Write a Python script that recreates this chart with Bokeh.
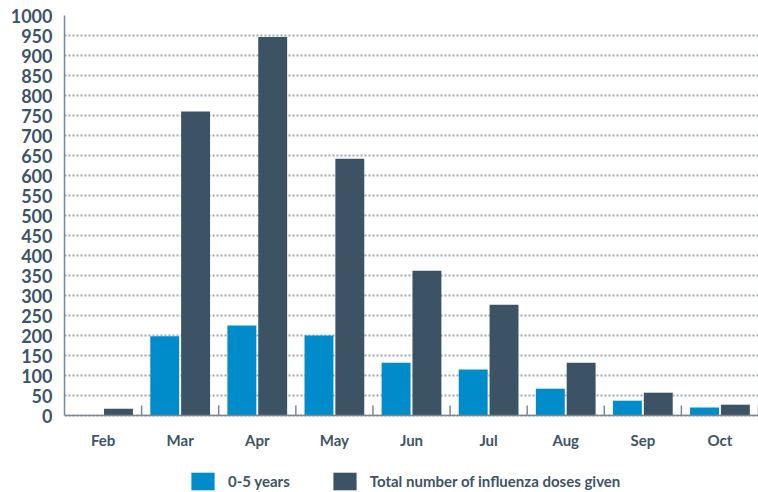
from bokeh.plotting import figure
from bokeh.models import (ColumnDataSource, FactorRange, Range1d, FixedTicker,
                          Legend, LegendItem)
from bokeh.transform import dodge
from bokeh.embed import file_html
from bokeh.resources import INLINE

months = ["Feb", "Mar", "Apr", "May", "Jun", "Jul", "Aug", "Sep", "Oct"]
young = [0, 198, 225, 200, 132, 115, 67, 37, 20]
total = [17, 760, 946, 642, 362, 277, 132, 57, 27]
y_ticks = list(range(0, 1001, 50))

BLUE = "#008bca"
DARK = "#3c5265"
TEXT = "#3e5467"
GRID = "#9aa5ae"
AXIS = "#7b8893"
FONT = "Lato"

W, H = 758, 492
TOP, LEFT = 15, 64
PLOT_PX = 400  # pixel height of 0..1000
frame_h = H - TOP
y_start = 1000 - frame_h * 1000 / PLOT_PX

src = ColumnDataSource(dict(month=months, young=young, total=total))

p = figure(x_range=FactorRange(*months, range_padding=0), y_range=Range1d(y_start, 1000),
           width=W, height=H, output_backend="svg", toolbar_location=None,
           min_border_left=LEFT, min_border_top=TOP, min_border_right=0, min_border_bottom=0)

r1 = p.vbar(x=dodge("month", -0.2, range=p.x_range), top="young", width=0.375,
            source=src, color=BLUE, line_color=None)
r2 = p.vbar(x=dodge("month", 0.2, range=p.x_range), top="total", width=0.375,
            source=src, color=DARK, line_color=None)

# small separator ticks between month groups
bounds = list(range(1, len(months) + 1))
p.segment(x0=bounds, y0=[0] * len(bounds), x1=bounds, y1=[25] * len(bounds),
          line_color=AXIS, line_width=1.5)

p.outline_line_color = None
p.xgrid.grid_line_color = None
p.ygrid.ticker = FixedTicker(ticks=y_ticks)
p.ygrid.grid_line_color = GRID
p.ygrid.grid_line_dash = "2 2"
p.ygrid.grid_line_width = 2

p.yaxis.ticker = FixedTicker(ticks=y_ticks)
p.yaxis.bounds = (0, 1000)
p.yaxis.major_tick_line_color = None
p.yaxis.minor_tick_line_color = None
p.yaxis.axis_line_color = AXIS
p.yaxis.axis_line_width = 1.5
p.yaxis.major_label_text_font = FONT
p.yaxis.major_label_text_font_style = "bold"
p.yaxis.major_label_text_font_size = "18px"
p.yaxis.major_label_text_color = TEXT
p.yaxis.major_label_standoff = 6

p.xaxis.fixed_location = 0
p.xaxis.major_tick_line_color = None
p.xaxis.minor_tick_line_color = None
p.xaxis.axis_line_color = AXIS
p.xaxis.axis_line_width = 1.5
p.xaxis.major_label_text_font = FONT
p.xaxis.major_label_text_font_style = "bold"
p.xaxis.major_label_text_font_size = "15px"
p.xaxis.major_label_text_color = TEXT
p.xaxis.major_label_standoff = 9

legend = Legend(items=[LegendItem(label="0-5 years", renderers=[r1]),
                       LegendItem(label="Total number of influenza doses given", renderers=[r2])],
                orientation="horizontal", location=(188 - LEFT, 0),
                glyph_width=29, glyph_height=22, label_standoff=11, spacing=40,
                label_text_font=FONT, label_text_font_style="bold",
                label_text_font_size="15px", label_text_color=TEXT,
                border_line_color=None, background_fill_alpha=0,
                padding=0, margin=0)
p.add_layout(legend, "center")

open("out.html", "w").write(file_html(p, INLINE))
